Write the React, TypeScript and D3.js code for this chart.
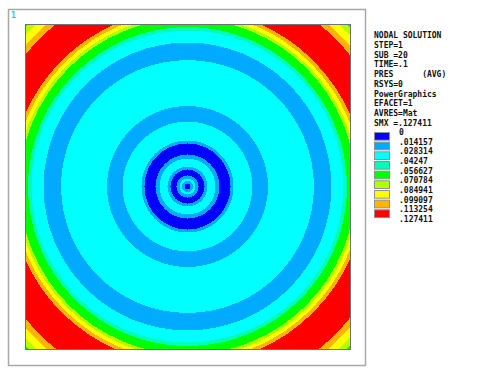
import * as d3 from 'd3';

// contour colours, lowest to highest level
const LEVEL_COLORS = [
  '#0000ff', '#00aaff', '#00ffff', '#00ffb4', '#00ff00',
  '#b4ff00', '#ffff00', '#ffb400', '#ff0000',
];
const LEVEL_LABELS = [
  '0', '.014157', '.028314', '.04247', '.056627',
  '.070784', '.084941', '.099097', '.113254', '.127411',
];

// radial bands of the PRES field: outer radius (plate half-width = 1) and level
const RING_OUTER_RADIUS = [
  1.48, 1.397, 1.366, 1.322, 1.286, 1.095, 1.073, 1.051, 1.033, 0.982,
  0.96, 0.886, 0.778, 0.495, 0.399, 0.283, 0.265, 0.197, 0.172, 0.123,
  0.105, 0.068, 0.049, 0.034, 0.018,
];
const RING_LEVEL = [
  4, 5, 6, 7, 8, 7, 6, 5, 4, 3,
  2, 1, 2, 1, 2, 1, 0, 1, 2, 1,
  0, 1, 2, 1, 0,
];

const INFO_LINES = [
  'NODAL SOLUTION', 'STEP=1', 'SUB =20', 'TIME=.1', 'PRES      (AVG)',
  'RSYS=0', 'PowerGraphics', 'EFACET=1', 'AVRES=Mat', 'SMX =.127411',
];

const W = 500;
const H = 375;
const FONT = '"DejaVu Sans Mono", monospace';

const App = () => {
  const plot = { left: 25, top: 24, size: 325 };
  const x = d3.scaleLinear().domain([-1, 1]).range([plot.left, plot.left + plot.size]);
  const y = d3.scaleLinear().domain([-1, 1]).range([plot.top + plot.size, plot.top]);
  const rad = (r: number) => x(r) - x(0);

  const infoY = d3.scaleLinear().domain([0, INFO_LINES.length - 1]).range([35, 123]);
  const legY = d3.scaleLinear().domain([0, LEVEL_COLORS.length]).range([132, 219]);

  return (
    <svg
      width={W}
      height={H}
      style={{ position: 'absolute', left: 0, top: 0, background: 'white' }}
    >
      <rect x={0} y={0} width={W} height={H} fill="white" />
      {/* window frame */}
      <rect x={8.5} y={9.5} width={357} height={356} fill="none" stroke="#a8a8a8" strokeWidth={1.5} />
      <text x={11} y={18} fontFamily={FONT} fontSize={8} fontWeight="bold" fill="#00d8e8">1</text>

      <defs>
        <clipPath id="plate">
          <rect x={plot.left} y={plot.top} width={plot.size} height={plot.size} />
        </clipPath>
      </defs>
      <g clipPath="url(#plate)" shapeRendering="crispEdges">
        {RING_OUTER_RADIUS.map((r, i) => (
          <circle
            key={i}
            cx={x(0)}
            cy={y(0)}
            r={rad(r)}
            fill={LEVEL_COLORS[RING_LEVEL[i]]}
          />
        ))}
      </g>
      <rect
        x={plot.left}
        y={plot.top}
        width={plot.size}
        height={plot.size}
        fill="none"
        stroke="#707078"
        strokeWidth={1}
        shapeRendering="crispEdges"
      />

      {/* info block */}
      <g fontFamily={FONT} fontSize={8} fontWeight="bold" fill="#111">
        {INFO_LINES.map((t, i) => (
          <text key={i} x={374} y={infoY(i) + 3} style={{ whiteSpace: 'pre' }}>
            {t}
          </text>
        ))}
      </g>

      {/* legend */}
      <g fontFamily={FONT} fontSize={8} fontWeight="bold">
        {LEVEL_COLORS.map((c, i) => (
          <rect
            key={c}
            x={374.5}
            y={legY(i) + 0.5}
            width={15}
            height={legY(i + 1) - legY(i) - 2}
            fill={c}
            stroke="#909090"
            strokeWidth={1}
          />
        ))}
        {LEVEL_LABELS.map((t, i) => (
          <text key={t} x={399} y={legY(i) + 3} fill="#111">
            {t}
          </text>
        ))}
      </g>
    </svg>
  );
};

export default App;
